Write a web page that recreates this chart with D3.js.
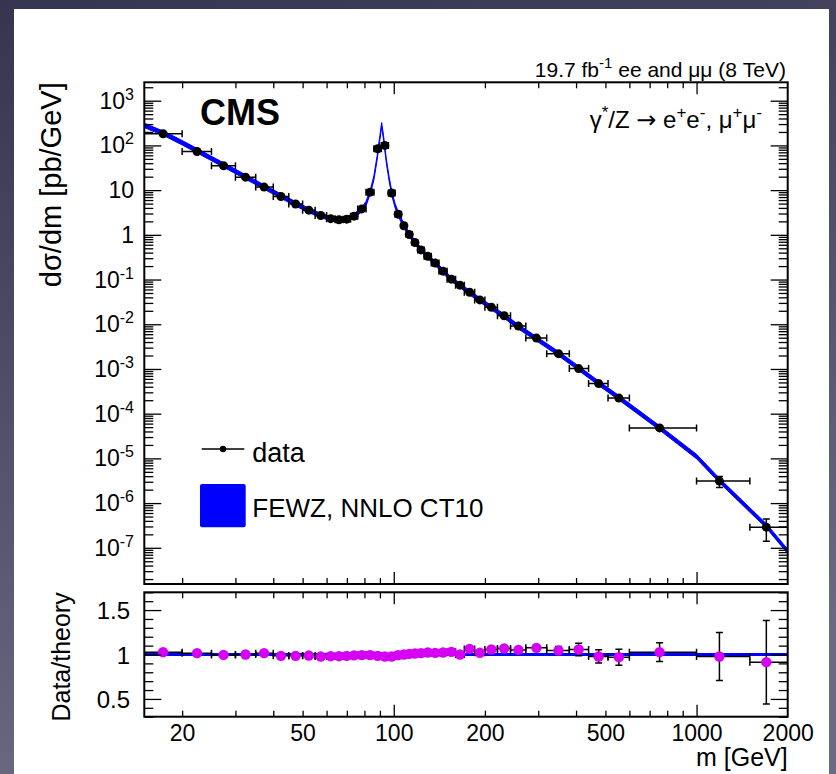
<!DOCTYPE html>
<html>
<head>
<meta charset="utf-8">
<script src="https://cdn.jsdelivr.net/npm/d3@7"></script>
<style>
body { margin: 0; }
svg text { font-family: "Liberation Sans", Arial, Helvetica, sans-serif; fill: #000; }
</style>
</head>
<body>
<svg id="chart" width="836" height="774"></svg>
<script>

// mass bin edges [GeV]
var binEdges = [15,20,25,30,35,40,45,50,55,60,64,68,72,76,81,86,91,96,101,106,110,115,120,126,133,141,150,160,171,185,200,220,243,273,320,380,440,510,600,1000,1500,2000];

// data points: position, d sigma / dm [pb/GeV], data/theory and its error
var dataMass = [17.3,22.4,27.4,32.4,37.3,42.4,47.4,52.4,57.4,61.9,65.9,69.9,73.9,78.4,83.5,88.5,93.4,98.4,103.4,108,112.5,117.5,123,129.5,137,145.5,155,165.5,178,192.5,210,231.5,258,296,350,408,475,554,755,1190,1700];
var dataXsec = [182,73,35,19.5,11.7,7.2,4.9,3.56,2.7,2.3,2.17,2.24,2.62,3.8,9.0,84,100,8.6,2.9,1.6,1.02,0.67,0.46,0.33,0.233,0.154,0.102,0.075,0.052,0.035,0.024,0.0155,0.0091,0.0049,0.0022,0.00102,0.00047,0.000223,4.8e-5,3.1e-6,2.9e-7];
var ratio = [1.026,1.015,0.995,1.0,1.015,0.985,0.985,0.988,0.978,0.981,0.981,0.985,0.99,0.993,0.993,0.985,0.978,0.978,0.993,1.0,1.007,1.011,1.015,1.022,1.018,1.022,1.03,1.0,1.063,1.019,1.056,1.067,1.052,1.075,1.045,1.056,0.978,0.97,1.026,0.978,0.914];
var ratioErr = [0.015,0.015,0.015,0.015,0.015,0.015,0.015,0.015,0.015,0.015,0.015,0.015,0.015,0.015,0.015,0.015,0.015,0.015,0.015,0.02,0.02,0.02,0.02,0.02,0.02,0.02,0.02,0.02,0.02,0.025,0.025,0.025,0.025,0.035,0.045,0.07,0.075,0.09,0.105,0.27,0.47];

// FEWZ NNLO CT10 prediction
var theoryMass = [15,17.5,20,22.5,27.5,32.5,37.5,42.5,47.5,52.5,57.5,62,66,70,74,78.5,81,84,86,88,90,91.2,92.5,94.5,96.5,98.5,101,103.5,108,112.5,117.5,123,129.5,137,145.5,155,165.5,178,192.5,210,231.5,258,296.5,350,410,475,555,755,1000,1190,1500,1700,2000];
var theoryXsec = [280,182,115,75,36,19.5,11.5,7.3,4.9,3.5,2.7,2.3,2.2,2.3,2.65,3.7,5.0,10,19,50,150,290,150,45,18,8.5,4.5,2.9,1.6,1.02,0.67,0.46,0.33,0.232,0.153,0.101,0.074,0.051,0.035,0.0235,0.0152,0.0088,0.0047,0.0022,0.00101,0.00048,0.000225,4.8e-5,1.1e-5,3.2e-6,7e-7,3.1e-7,8.3e-8];

// tick labels
var xLabels = [20,50,100,200,500,1000,2000];
var yExponents = [-7,-6,-5,-4,-3,-2,-1,0,1,2,3];
var ratioLabels = [0.5,1,1.5];

var svg = d3.select("#chart");

// slide background
var grad = svg.append("defs").append("linearGradient")
    .attr("id", "bg").attr("x1", 0).attr("y1", 0).attr("x2", 0.25).attr("y2", 1);
grad.append("stop").attr("offset", "0%").attr("stop-color", "#363550");
grad.append("stop").attr("offset", "100%").attr("stop-color", "#6b6a83");
svg.append("rect").attr("width", 836).attr("height", 774).attr("fill", "url(#bg)");
svg.append("rect").attr("x", 14).attr("y", 9).attr("width", 815).attr("height", 765).attr("fill", "#fff");

var left = 144.3, right = 787.7;
var topY0 = 82.3, topY1 = 584;
var ratY0 = 592.3, ratY1 = 716.7;

var x = d3.scaleLog().domain([15, 2000]).range([left, right]);
var y = d3.scaleLog().domain([1.55e-8, 2580]).range([topY1, topY0]);
var yr = d3.scaleLinear().domain([0.3, 1.7]).range([ratY1, ratY0]);

svg.append("clipPath").attr("id", "clipTop").append("rect")
    .attr("x", left).attr("y", topY0).attr("width", right - left).attr("height", topY1 - topY0);
svg.append("clipPath").attr("id", "clipRat").append("rect")
    .attr("x", left).attr("y", ratY0).attr("width", right - left).attr("height", ratY1 - ratY0);

var points = dataMass.map(function (m, i) {
    return {m: m, lo: binEdges[i], hi: binEdges[i + 1], v: dataXsec[i],
            r: ratio[i], re: ratioErr[i], ve: dataXsec[i] * ratioErr[i] / ratio[i]};
});
var theory = theoryMass.map(function (m, i) { return {m: m, v: theoryXsec[i]}; });

// ---------- top panel ----------
var gTop = svg.append("g").attr("clip-path", "url(#clipTop)");

// prediction band (thin where the curve is steep, as at the Z peak)
gTop.append("path")
    .datum(theory)
    .attr("d", d3.area()
        .x(function (d) { return x(d.m); })
        .y0(function (d) { return y(d.v) - 2.2; })
        .y1(function (d) { return y(d.v) + 2.2; }))
    .attr("fill", "#0000ff")
    .attr("stroke", "#0000ff")
    .attr("stroke-width", 1);

function errorBars(g, data, yf, yLo, yHi) {
    var cap = 3.5;
    var bars = g.append("g").attr("stroke", "#000").attr("stroke-width", 1.5).attr("fill", "none");
    bars.selectAll("path.h").data(data).enter().append("path")
        .attr("d", function (d) {
            var yy = yf(d), x0 = x(d.lo), x1 = x(d.hi);
            return "M" + x0 + "," + yy + "H" + x1 +
                "M" + x0 + "," + (yy - cap) + "V" + (yy + cap) +
                "M" + x1 + "," + (yy - cap) + "V" + (yy + cap);
        });
    bars.selectAll("path.v").data(data).enter().append("path")
        .attr("d", function (d) {
            var xx = x(d.m), y0 = yLo(d), y1 = yHi(d);
            return "M" + xx + "," + y0 + "V" + y1 +
                "M" + (xx - cap) + "," + y0 + "H" + (xx + cap) +
                "M" + (xx - cap) + "," + y1 + "H" + (xx + cap);
        });
}

errorBars(gTop, points,
    function (d) { return y(d.v); },
    function (d) { return y(d.v + d.ve); },
    function (d) { return y(d.v - d.ve); });

gTop.selectAll("circle").data(points).enter().append("circle")
    .attr("cx", function (d) { return x(d.m); })
    .attr("cy", function (d) { return y(d.v); })
    .attr("r", 4.5)
    .attr("fill", "#000");

// ---------- ratio panel ----------
var gRat = svg.append("g").attr("clip-path", "url(#clipRat)");

gRat.append("line")
    .attr("x1", left).attr("x2", right)
    .attr("y1", yr(1)).attr("y2", yr(1))
    .attr("stroke", "#0000ff").attr("stroke-width", 3);

errorBars(gRat, points,
    function (d) { return yr(d.r); },
    function (d) { return yr(d.r + d.re); },
    function (d) { return yr(d.r - d.re); });

gRat.selectAll("circle").data(points).enter().append("circle")
    .attr("cx", function (d) { return x(d.m); })
    .attr("cy", function (d) { return yr(d.r); })
    .attr("r", 5.2)
    .attr("fill", "#d600f5");

// ---------- axes ----------
var xMajor = [100, 1000];
var xMinor = [20,30,40,50,60,70,80,90,200,300,400,500,600,700,800,900];
var yMajor = yExponents.map(function (e) { return Math.pow(10, e); });
var yMinor = [];
d3.range(-8, 4).forEach(function (e) {
    d3.range(2, 10).forEach(function (k) {
        var v = k * Math.pow(10, e);
        if (v > 1.55e-8 && v < 2580) yMinor.push(v);
    });
});
var rMinor = d3.range(3, 18).map(function (k) { return k / 10; })
    .filter(function (v) { return ratioLabels.indexOf(v) < 0; });

function tickAxis(axis, tx, ty, vals, size) {
    var g = svg.append("g").attr("transform", "translate(" + tx + "," + ty + ")")
        .call(axis.tickValues(vals).tickSize(-size).tickFormat(""));
    g.select(".domain").remove();
    g.selectAll("line").attr("stroke-width", 1.3);
}

[[topY0, topY1], [ratY0, ratY1]].forEach(function (p) {
    tickAxis(d3.axisTop(x), 0, p[0], xMajor, 12);
    tickAxis(d3.axisTop(x), 0, p[0], xMinor, 6);
    tickAxis(d3.axisBottom(x), 0, p[1], xMajor, 12);
    tickAxis(d3.axisBottom(x), 0, p[1], xMinor, 6);
});
tickAxis(d3.axisLeft(y), left, 0, yMajor, 17);
tickAxis(d3.axisLeft(y), left, 0, yMinor, 9);
tickAxis(d3.axisRight(y), right, 0, yMajor, 17);
tickAxis(d3.axisRight(y), right, 0, yMinor, 9);
tickAxis(d3.axisLeft(yr), left, 0, ratioLabels, 17);
tickAxis(d3.axisLeft(yr), left, 0, rMinor, 9);
tickAxis(d3.axisRight(yr), right, 0, ratioLabels, 17);
tickAxis(d3.axisRight(yr), right, 0, rMinor, 9);

// frames
[[topY0, topY1], [ratY0, ratY1]].forEach(function (p) {
    svg.append("rect")
        .attr("x", left).attr("y", p[0])
        .attr("width", right - left).attr("height", p[1] - p[0])
        .attr("fill", "none").attr("stroke", "#000").attr("stroke-width", 2);
});

// x labels
var xl = svg.append("g").attr("transform", "translate(0," + ratY1 + ")")
    .call(d3.axisBottom(x).tickValues(xLabels).tickSize(0).tickFormat(d3.format("d")));
xl.select(".domain").remove();
xl.selectAll("text").attr("y", 24).attr("dy", null)
    .style("font-size", "23px").attr("fill", "#000");

// y labels (top), with exponents
yExponents.forEach(function (e) {
    var t = svg.append("text")
        .attr("x", 134).attr("y", y(Math.pow(10, e)) + 8)
        .attr("text-anchor", "end")
        .style("font-size", "23px");
    if (e === 0) t.text("1");
    else if (e === 1) t.text("10");
    else {
        t.append("tspan").text("10");
        t.append("tspan").attr("dy", -9).style("font-size", "16px").text(String(e));
    }
});

// ratio labels
ratioLabels.forEach(function (v) {
    svg.append("text")
        .attr("x", 130).attr("y", yr(v) + 9)
        .attr("text-anchor", "end")
        .style("font-size", "24px")
        .text(v);
});

// axis titles
svg.append("text")
    .attr("transform", "translate(61," + topY0 + ") rotate(-90)")
    .attr("text-anchor", "end")
    .style("font-size", "29px")
    .text("dσ/dm [pb/GeV]");

svg.append("text")
    .attr("transform", "translate(69.5," + ratY0 + ") rotate(-90)")
    .attr("text-anchor", "end")
    .style("font-size", "25px")
    .text("Data/theory");

svg.append("text")
    .attr("x", right).attr("y", 766)
    .attr("text-anchor", "end")
    .style("font-size", "25px")
    .text("m [GeV]");

// header texts
function richText(xx, yy, size, supSize, parts, anchor) {
    var t = svg.append("text").attr("x", xx).attr("y", yy)
        .attr("text-anchor", anchor).style("font-size", size + "px");
    var up = false;
    parts.forEach(function (p) {
        var sup = p[1] === 1;
        var ts = t.append("tspan").text(p[0]);
        if (sup && !up) { ts.attr("dy", -size * 0.4); up = true; }
        else if (!sup && up) { ts.attr("dy", size * 0.4); up = false; }
        if (sup) ts.style("font-size", supSize + "px");
    });
    return t;
}

richText(786, 76.5, 21, 15, [["19.7 fb", 0], ["-1", 1], [" ee and μμ (8 TeV)", 0]], "end");

richText(762, 128, 24, 17,
    [["γ", 0], ["*", 1], ["/Z ", 0], ["→", 2], [" e", 0], ["+", 1], ["e", 0], ["-", 1], [", μ", 0], ["+", 1], ["μ", 0], ["-", 1]], "end");
svg.selectAll("tspan").filter(function () { return this.textContent === "→"; })
    .style("font-family", "'DejaVu Sans', sans-serif");

svg.append("text")
    .attr("x", 200).attr("y", 125)
    .style("font-size", "36px").style("font-weight", "bold")
    .text("CMS");

// legend
var leg = svg.append("g");
leg.append("line").attr("x1", 201.7).attr("x2", 244.3).attr("y1", 449).attr("y2", 449)
    .attr("stroke", "#000").attr("stroke-width", 1.5);
leg.append("circle").attr("cx", 223).attr("cy", 449).attr("r", 3.2).attr("fill", "#000");
leg.append("text").attr("x", 252.3).attr("y", 461.7).style("font-size", "27px").text("data");
leg.append("rect").attr("x", 200).attr("y", 484).attr("width", 45.7).attr("height", 43.3)
    .attr("rx", 2).attr("fill", "#0000ff");
leg.append("text").attr("x", 252.3).attr("y", 516.7).style("font-size", "26px").text("FEWZ, NNLO CT10");

</script>
</body>
</html>
